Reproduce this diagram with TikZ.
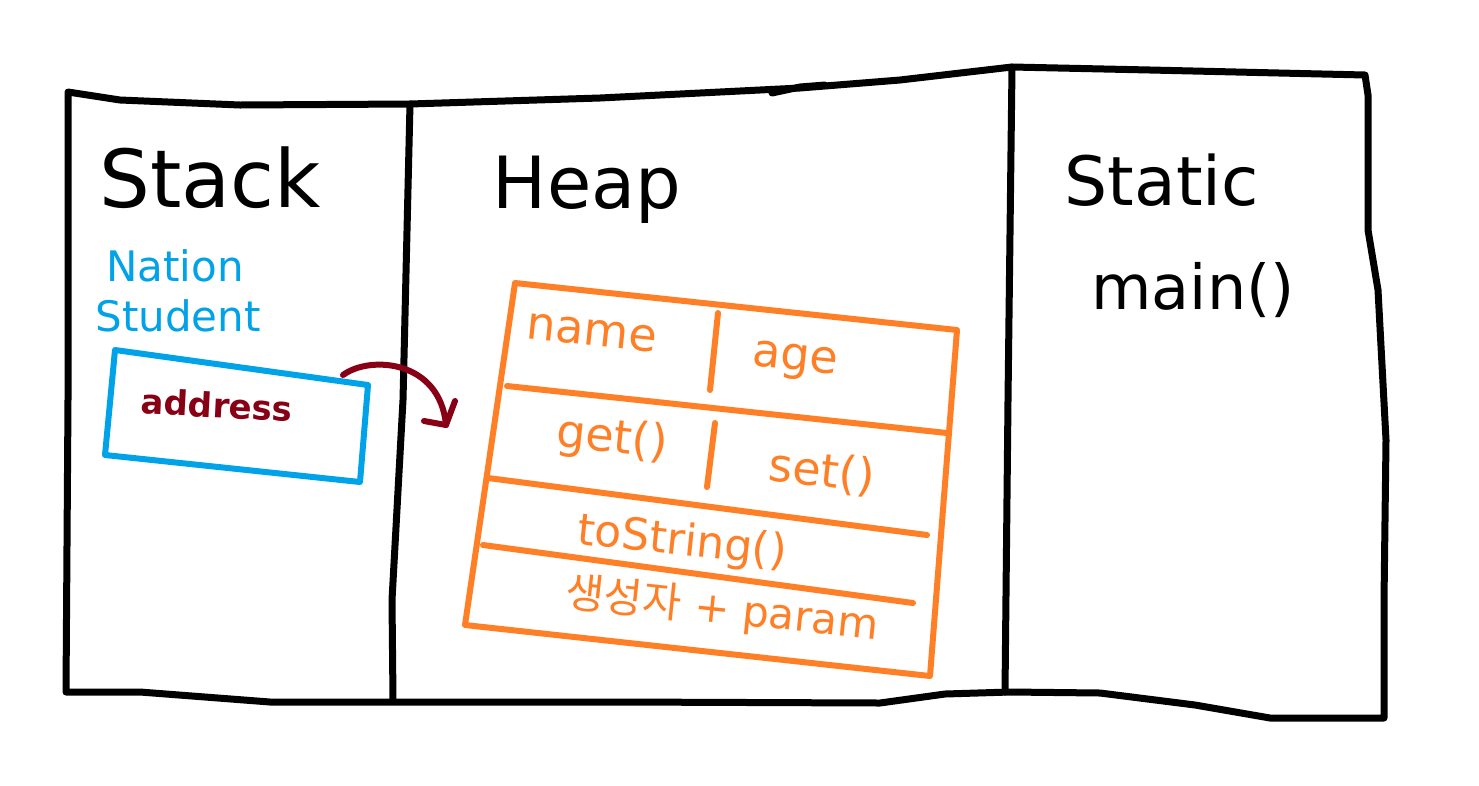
\documentclass[tikz,border=0pt]{standalone}
\usepackage{fontspec}
\setmainfont{DejaVu Sans}
\newfontfamily\krfont{Noto Sans CJK KR}
\definecolor{pblue}{RGB}{0,162,232}
\definecolor{porange}{RGB}{255,127,39}
\definecolor{pred}{RGB}{136,0,21}
\begin{document}
\begin{tikzpicture}[x=1pt,y=-1pt,line cap=round,line join=round,
  pen/.style={line width=6pt},
  blk/.style={line width=7pt,black},
  blu/.style={pen,pblue},
  org/.style={pen,porange},
  rd/.style={pen,pred},
  title/.style={inner sep=0pt,font=\fontsize{80}{90}\selectfont},
  btxt/.style={inner sep=0pt,text=pblue,font=\fontsize{42}{46}\selectfont},
  otxt/.style={inner sep=0pt,text=porange,rotate=-6,font=\fontsize{46}{50}\selectfont}]
\useasboundingbox[fill=white] (0,0) rectangle (1479,785);
% outer frame
\draw[blk] (68,92) -- (120,100) -- (240,105) -- (410,104) -- (600,98) -- (760,90) -- (800,88) -- (900,80) -- (1012,67) -- (1150,70) -- (1365,75) -- (1368,95) -- (1368,230) -- (1378,290) -- (1386,440) -- (1384,600) -- (1384,718) -- (1270,718) -- (1195,705) -- (1100,693) -- (1010,692) -- (945,694) -- (880,703) -- (620,702) -- (270,702) -- (140,692) -- (66,692) -- (68,400) -- cycle;
\draw[blk] (772,93) -- (800,87) -- (825,85);
% dividers
\draw[blk] (410,104) -- (403,400) -- (392,600) -- (393,700);
\draw[blk] (1012,67) -- (1008,400) -- (1005,692);
% titles
\node[title] (stack) at (210,178) {Stack};
\node[title,font=\fontsize{72}{80}\selectfont] (heap) at (587,190) {Heap};
\node[title,font=\fontsize{68}{74}\selectfont] (static) at (1162,180) {Static};
\node[title,font=\fontsize{62}{70}\selectfont] (main) at (1193,290) {main()};
% stack contents
\node[btxt] (nation) at (175,266) {Nation};
\node[btxt] (student) at (178,316) {Student};
\coordinate (b1) at (115,350);
\coordinate (b2) at (368,385);
\coordinate (b3) at (360,482);
\coordinate (b4) at (105,455);
\draw[blu] (b1) -- (b2) -- (b3) -- (b4) -- cycle;
\node[inner sep=0pt,text=pred,rotate=-3,font=\bfseries\fontsize{34}{38}\selectfont] (addr) at (217,405) {address};
% arrow
\coordinate (a0) at (343,375);
\coordinate (a1) at (446,425);
\coordinate (h1) at (424,421);
\coordinate (h2) at (455,401);
\draw[rd] (a0) .. controls (370,355) and (440,360) .. (a1);
\draw[rd] (h1) -- (a1) -- (h2);
% heap object
\coordinate (o1) at (515,283);
\coordinate (o2) at (957,330);
\coordinate (o3) at (930,676);
\coordinate (o4) at (465,625);
\draw[org] (o1) -- (o2) -- (o3) -- (o4) -- cycle;
\draw[org] (507,386) -- (947,433);
\draw[org] (488,478) -- (927,535);
\draw[org] (483,545) -- (913,603);
\draw[org] (718,313) -- (710,390);
\draw[org] (715,423) -- (707,487);
\node[otxt] (name) at (592,333) {name};
\node[otxt] (age) at (795,362) {age};
\node[otxt] (get) at (612,440) {get()};
\node[otxt] (set) at (822,472) {set()};
\node[otxt,font=\fontsize{44}{48}\selectfont] (tostr) at (682,543) {toString()};
\node[otxt,font=\fontsize{42}{46}\selectfont] (ctor) at (722,610) {{\krfont 생성자} + param};
\end{tikzpicture}
\end{document}
